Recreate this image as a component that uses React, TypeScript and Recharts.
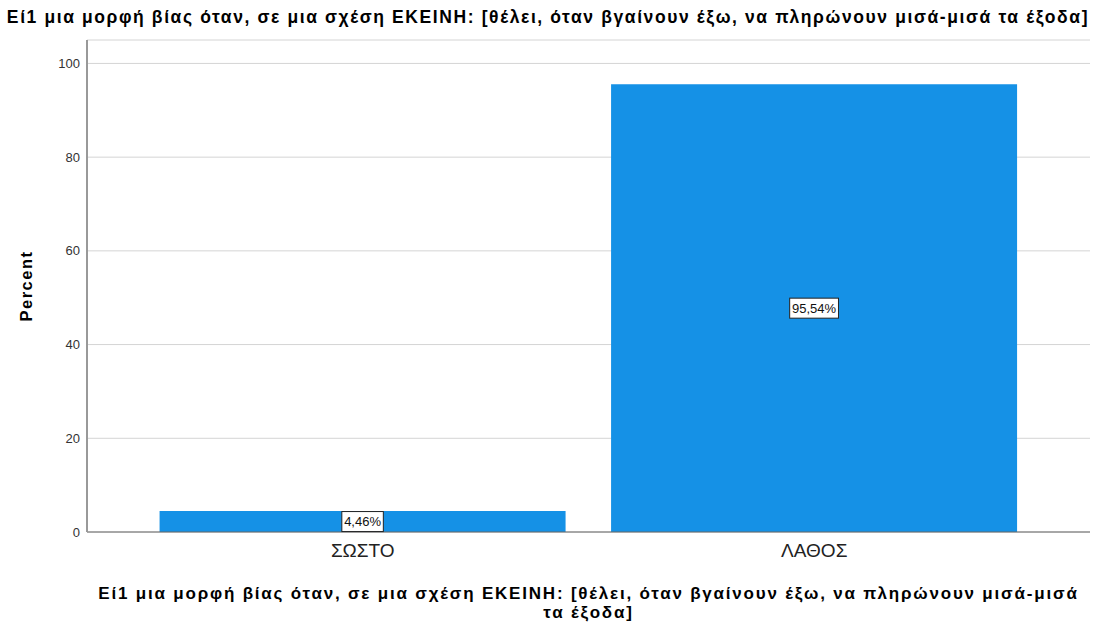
import { BarChart, Bar, XAxis, YAxis, CartesianGrid, LabelList } from 'recharts';

const categories = ['ΣΩΣΤΟ', 'ΛΑΘΟΣ'];
const percents = [4.46, 95.54];
const yTicks = [0, 20, 40, 60, 80, 100];

const chartTitle =
  'Εί1 μια μορφή βίας όταν, σε μια σχέση ΕΚΕΙΝΗ: [θέλει, όταν βγαίνουν έξω, να πληρώνουν μισά-μισά τα έξοδα]';
const xTitleLine1 = 'Εί1 μια μορφή βίας όταν, σε μια σχέση ΕΚΕΙΝΗ: [θέλει, όταν βγαίνουν έξω, να πληρώνουν μισά-μισά';
const xTitleLine2 = 'τα έξοδα]';

const data = categories.map((name, i) => ({ name, value: percents[i] }));

const BoxLabel = (props: any) => {
  const { x, y, width, height, value } = props;
  const text = value.toFixed(2).replace('.', ',') + '%';
  const cx = x + width / 2;
  const cy = y + height / 2;
  const w = text.length * 7.3 + 5;
  return (
    <g>
      <rect x={cx - w / 2} y={cy - 10} width={w} height={20} fill="#fff" stroke="#222" strokeWidth={1} />
      <text x={cx} y={cy + 4.5} textAnchor="middle" fontSize={13} fill="#111" fontFamily="Arial, Liberation Sans">
        {text}
      </text>
    </g>
  );
};

export default function App() {
  return (
    <div style={{ position: 'absolute', left: 0, top: 0, width: 1096, height: 628, background: '#fff', fontFamily: 'Arial, "Liberation Sans", sans-serif' }}>
      <div style={{ position: 'absolute', left: 0, top: 7, width: 1096, textAlign: 'center', fontSize: 17.5, letterSpacing: 1.6, fontWeight: 'bold', color: '#000', whiteSpace: 'nowrap' }}>
        {chartTitle}
      </div>
      <BarChart
        width={1096}
        height={628}
        data={data}
        margin={{ top: 40, right: 6, bottom: 66, left: 0 }}
        barCategoryGap="5%"
      >
        <CartesianGrid vertical={false} stroke="#d4d4d4" />
        <XAxis
          dataKey="name"
          padding={{ left: 50, right: 50 }}
          axisLine={{ stroke: '#666' }}
          tickLine={false}
          tick={{ fontSize: 19, fill: '#222' }}
          tickMargin={6}
        />
        <YAxis
          domain={[0, 105]}
          ticks={yTicks}
          width={87}
          axisLine={{ stroke: '#999', strokeWidth: 2 }}
          tickLine={false}
          tick={{ fontSize: 13, fill: '#333' }}
          tickMargin={1}
          label={{ value: 'Percent', angle: -90, position: 'insideLeft', offset: 26, style: { fontSize: 16.5, letterSpacing: 1.5, fontWeight: 'bold', fill: '#000', textAnchor: 'middle' } }}
        />
        <Bar dataKey="value" fill="#1591e6" isAnimationActive={false}>
          <LabelList dataKey="value" content={BoxLabel} />
        </Bar>
      </BarChart>
      <div style={{ position: 'absolute', left: 87, top: 584, width: 1003, textAlign: 'center', fontSize: 17, letterSpacing: 1.8, fontWeight: 'bold', color: '#000', lineHeight: '19px', whiteSpace: 'nowrap' }}>
        <div>{xTitleLine1}</div>
        <div>{xTitleLine2}</div>
      </div>
    </div>
  );
}
